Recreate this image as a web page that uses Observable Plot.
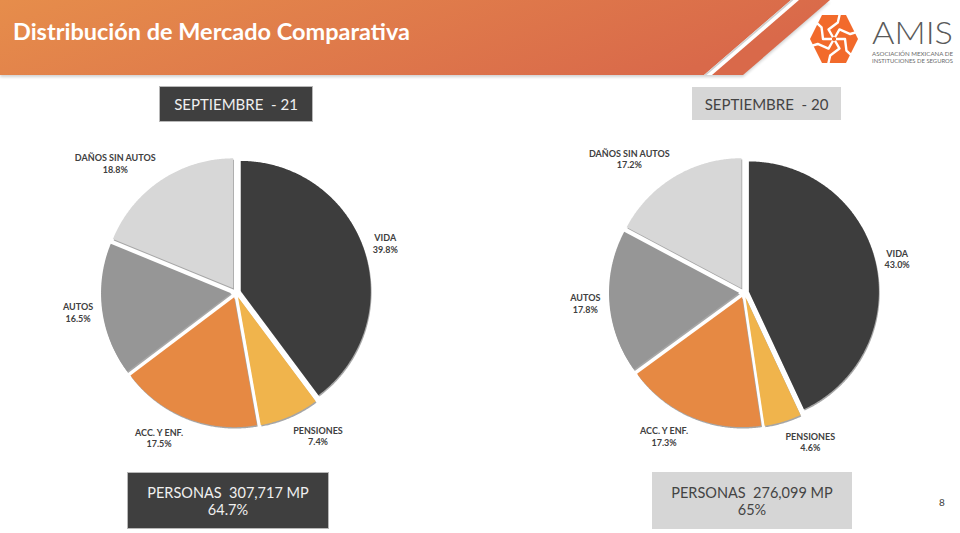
<!DOCTYPE html>
<html>
<head>
<meta charset="utf-8">
<script src="https://cdn.jsdelivr.net/npm/d3@7"></script>
<script src="https://cdn.jsdelivr.net/npm/@observablehq/plot@0.6"></script>
<style>
  html, body { margin: 0; padding: 0; background: #fff; }
  #page { position: relative; width: 960px; height: 533px; overflow: hidden; font-family: Lato, "Open Sans", sans-serif; }
  #page > * { position: absolute; }
  .box { display: flex; flex-direction: column; align-items: center; justify-content: center; box-sizing: border-box; font-size: 15px; line-height: 16px; text-align: center; white-space: pre; }
  .box.two { font-size: 14.5px; line-height: 17px; }
  .dark { background: #3f3f3f; color: #f0f0f0; border: 1px solid #b8b8b8; }
  .light { background: #d6d6d6; color: #444; }
</style>
</head>
<body>
<div id="page">
  <svg id="hdr" width="960" height="80" style="left:0;top:0">
    <defs>
      <linearGradient id="og" x1="0" y1="0" x2="1" y2="0.25">
        <stop offset="0" stop-color="#e68d4b"/>
        <stop offset="1" stop-color="#d9694a"/>
      </linearGradient>
      <filter id="blur" x="-5%" y="-50%" width="110%" height="200%"><feGaussianBlur stdDeviation="1.6"/></filter>
    </defs>
    <polygon points="0,2 830,2 743,77 0,77" fill="#000" opacity="0.18" filter="url(#blur)"/>
    <polygon points="0,0 830,0 743,75 0,75" fill="url(#og)"/>
    <polygon points="791,0 799,0 712,75 704,75" fill="#ffffff"/>
    <polygon points="791,0 793.5,0 706.5,75 704,75" fill="#cfcfcf"/>
    <text x="13" y="39.5" fill="#fff" font-family="Lato" font-weight="700" font-size="22" textLength="397" lengthAdjust="spacingAndGlyphs">Distribución de Mercado Comparativa</text>
    <g id="logo"></g>
    <text x="872" y="44" fill="#5a5a5a" font-family="Lato" font-weight="300" font-size="31" textLength="81" lengthAdjust="spacingAndGlyphs">AMIS</text>
    <text x="872" y="55.5" fill="#6a6a6a" font-family="Lato" font-size="5.8" textLength="81" lengthAdjust="spacingAndGlyphs">ASOCIACIÓN MEXICANA DE</text>
    <text x="872" y="62.5" fill="#6a6a6a" font-family="Lato" font-size="5.8" textLength="81" lengthAdjust="spacingAndGlyphs">INSTITUCIONES DE SEGUROS</text>
  </svg>
  <div id="chart" style="left:0;top:0"></div>
  <div id="p0" class="box dark" style="left:159px;top:86px;width:154px;height:36px;"></div>
  <div id="p1" class="box light" style="left:692px;top:87px;width:149px;height:33px;"></div>
  <div id="b0" class="box two dark" style="left:127px;top:472px;width:202px;height:57px;"></div>
  <div id="b1" class="box two light" style="left:652px;top:472px;width:200px;height:57px;"></div>
  <div style="left:937px;top:496px;width:10px;text-align:center;font-size:10px;color:#404040;">8</div>
</div>
<script>
// ---- data ----
const categories = ["VIDA", "PENSIONES", "ACC. Y ENF.", "AUTOS", "DAÑOS SIN AUTOS"];
const colors = ["#3d3d3d", "#f0b44c", "#e68943", "#969696", "#d7d7d7"];
const periods = ["SEPTIEMBRE  - 21", "SEPTIEMBRE  - 20"];
const sept21 = [39.8, 7.4, 17.5, 16.5, 18.8];
const sept20 = [43.0, 4.6, 17.3, 17.8, 17.2];
const personasMP = [307717, 276099];
const personasShare = ["64.7%", "65%"];

// ---- layout ----
const W = 960, H = 533;
const centers = [[235.5, 292], [743.5, 292]];
const r = 130, explode = 5, labelR = r + 14, labelHH = 12;

// header boxes
periods.forEach((p, i) => { document.getElementById("p" + i).textContent = p; });
const fmtInt = d3.format(",");
personasMP.forEach((v, i) => {
  document.getElementById("b" + i).innerHTML = "<div>PERSONAS  " + fmtInt(v) + " MP</div><div>" + personasShare[i] + "</div>";
});

// logo
(function () {
  const g = d3.select("#logo");
  const cx = 834, cy = 39;
  g.append("polygon").attr("points", "810,39 822,15 846,15 858,39 846,63 822,63").attr("fill", "#f26a2b");
  for (let k = 0; k < 6; k++) {
    const a = k * Math.PI / 3;
    const p = (rad, ang) => [cx + rad * Math.cos(ang), cy + rad * Math.sin(ang)];
    const pts = [p(2, a), p(11, a), p(17, a + 0.75), p(27, a + 0.75)];
    g.append("path").attr("d", "M" + pts.map(q => q.join(",")).join("L"))
      .attr("fill", "none").attr("stroke", "#fff").attr("stroke-width", 2.4).attr("stroke-linejoin", "round");
  }
})();

// ---- pie geometry from data ----
const pie = d3.pie().sort(null).value(d => d.value);
const ctx = document.createElement("canvas").getContext("2d");
ctx.font = "bold 9px Lato";
const fmtPct = d3.format(".1f");
const slicePts = [];
const labels = [];
[sept21, sept20].forEach((vals, p) => {
  const [cx, cy] = centers[p];
  const arcs = pie(categories.map((c, i) => ({cat: c, value: vals[i]})));
  arcs.forEach(a => {
    const cat = a.data.cat, key = p + "|" + cat;
    const mid = (a.startAngle + a.endAngle) / 2;
    const ox = cx + explode * Math.sin(mid), oy = cy - explode * Math.cos(mid);
    slicePts.push({key, cat, x: ox, y: oy});
    const n = Math.max(2, Math.ceil((a.endAngle - a.startAngle) / (Math.PI / 360)));
    for (let k = 0; k <= n; k++) {
      const t = a.startAngle + (a.endAngle - a.startAngle) * k / n;
      slicePts.push({key, cat, x: ox + r * Math.sin(t), y: oy - r * Math.cos(t)});
    }
    const pct = fmtPct(a.data.value) + "%";
    const hw = Math.max(ctx.measureText(cat).width, ctx.measureText(pct).width) / 2;
    const s = Math.sin(mid), c = Math.cos(mid);
    labels.push({text: cat + "\n" + pct, x: cx + labelR * s + Math.sign(s) * hw, y: cy - (labelR + labelHH) * c});
  });
});

const chart = Plot.plot({
  width: W, height: H,
  margin: 0,
  x: {domain: [0, W], range: [0, W], axis: null},
  y: {domain: [0, H], range: [0, H], axis: null},
  color: {domain: categories, range: colors},
  style: {background: "transparent", fontFamily: "Lato", overflow: "visible"},
  marks: [
    Plot.line(slicePts, {x: "x", y: "y", z: "key", fill: "#000", fillOpacity: 0.35, stroke: "none", curve: "linear-closed", dx: 0.8, dy: 1.4}),
    Plot.line(slicePts, {x: "x", y: "y", z: "key", fill: "cat", stroke: "none", curve: "linear-closed"}),
    Plot.text(labels, {x: "x", y: "y", text: "text", fontSize: 9, fontWeight: "bold", fill: "#404040", lineHeight: 1.3, lineAnchor: "middle", textAnchor: "middle"})
  ]
});
document.getElementById("chart").appendChild(chart);
</script>
</body>
</html>
